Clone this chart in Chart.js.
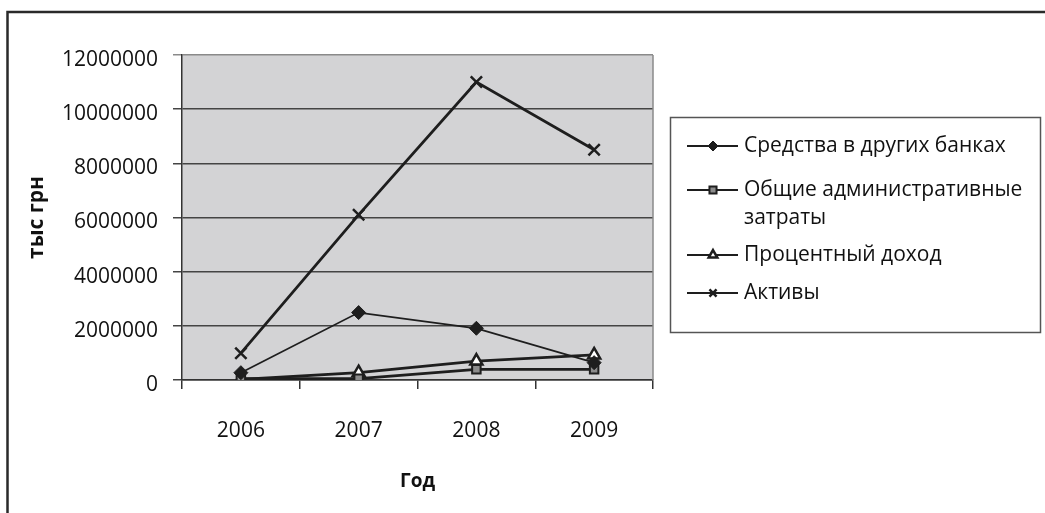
<!DOCTYPE html>
<html>
<head>
<meta charset="utf-8">
<script src="https://cdn.jsdelivr.net/npm/chart.js@4/dist/chart.umd.min.js"></script>
<style>
  html, body { margin: 0; padding: 0; background: #fff; }
  #wrap { width: 1045px; height: 513px; position: relative; }
</style>
</head>
<body>
<div id="wrap"><canvas id="chart" width="1045" height="513"></canvas></div>
<script>
// data
const years = ["2006", "2007", "2008", "2009"];
const bankFunds = [270000, 2490000, 1910000, 640000];
const adminCosts = [50000, 50000, 395000, 395000];
const interestIncome = [20000, 270000, 700000, 925000];
const assets = [990000, 6100000, 11000000, 8500000];

const FONT = "'Open Sans', 'DejaVu Sans', sans-serif";
const INK = "#1e1e1e";

// plot background, outer frame and the right edge of the plot
const frame = {
  id: "frame",
  beforeDraw: (chart) => {
    const { ctx, chartArea: a } = chart;
    ctx.save();
    ctx.fillStyle = "#d3d3d5";
    ctx.fillRect(a.left, a.top, a.right - a.left, a.bottom - a.top);
    ctx.restore();
  },
  afterDraw: (chart) => {
    const { ctx, chartArea: a } = chart;
    ctx.save();
    ctx.strokeStyle = "#8a8a8a";
    ctx.lineWidth = 1.5;
    ctx.beginPath();
    ctx.moveTo(a.right, a.top);
    ctx.lineTo(a.right, a.bottom);
    ctx.stroke();
    ctx.strokeStyle = "#2a2a2a";
    ctx.lineWidth = 2.5;
    ctx.beginPath();
    ctx.moveTo(7.5, 513);
    ctx.lineTo(7.5, 12);
    ctx.lineTo(1045, 12);
    ctx.stroke();
    ctx.restore();
  }
};

// legend box on the right, with a two-line label
const legendBox = {
  id: "legendBox",
  afterDraw: (chart) => {
    const { ctx } = chart;
    ctx.save();
    ctx.strokeStyle = "#555";
    ctx.lineWidth = 1.5;
    ctx.strokeRect(670.5, 117.5, 370, 215);
    const rows = [
      { lines: ["Средства в других банках"], y: 146 },
      { lines: ["Общие административные", "затраты"], y: 190 },
      { lines: ["Процентный доход"], y: 255 },
      { lines: ["Активы"], y: 293 }
    ];
    ctx.font = "21px " + FONT;
    ctx.textBaseline = "middle";
    chart.data.datasets.forEach((ds, i) => {
      const r = rows[i];
      ctx.strokeStyle = INK;
      ctx.lineWidth = 2;
      ctx.beginPath();
      ctx.moveTo(687, r.y);
      ctx.lineTo(738, r.y);
      ctx.stroke();
      ctx.fillStyle = ds.pointBackgroundColor;
      ctx.strokeStyle = ds.pointBorderColor;
      ctx.lineWidth = ds.pointBorderWidth;
      Chart.helpers.drawPoint(ctx, { pointStyle: ds.pointStyle, radius: 5, rotation: 0, borderWidth: ds.pointBorderWidth }, 713, r.y);
      ctx.fillStyle = "#111";
      r.lines.forEach((t, k) => ctx.fillText(t, 744, r.y + k * 28));
    });
    ctx.restore();
  }
};

const ctx = document.getElementById("chart").getContext("2d");

new Chart(ctx, {
  type: "line",
  data: {
    labels: years,
    datasets: [
      {
        label: "Средства в других банках",
        data: bankFunds,
        borderColor: INK,
        borderWidth: 1.8,
        pointStyle: "rectRot",
        pointRadius: 7,
        pointBackgroundColor: INK,
        pointBorderColor: INK,
        pointBorderWidth: 1
      },
      {
        label: "Общие административные затраты",
        data: adminCosts,
        borderColor: INK,
        borderWidth: 2.8,
        pointStyle: "rect",
        pointRadius: 6,
        pointBackgroundColor: "#8c8c8c",
        pointBorderColor: INK,
        pointBorderWidth: 2
      },
      {
        label: "Процентный доход",
        data: interestIncome,
        borderColor: INK,
        borderWidth: 2.8,
        pointStyle: "triangle",
        pointRadius: 7,
        pointBackgroundColor: "#ffffff",
        pointBorderColor: INK,
        pointBorderWidth: 2.5
      },
      {
        label: "Активы",
        data: assets,
        borderColor: INK,
        borderWidth: 2.8,
        pointStyle: "crossRot",
        pointRadius: 8,
        pointBackgroundColor: INK,
        pointBorderColor: INK,
        pointBorderWidth: 2.5
      }
    ]
  },
  options: {
    responsive: false,
    animation: false,
    layout: { padding: { top: 55, right: 392, bottom: 0, left: 0 } },
    plugins: {
      legend: { display: false },
      tooltip: { enabled: false }
    },
    elements: { line: { tension: 0 } },
    scales: {
      x: {
        offset: true,
        grid: {
          offset: true,
          drawOnChartArea: false,
          drawTicks: true,
          tickLength: 9,
          color: "#333",
          lineWidth: 1.5
        },
        border: { display: true, color: "#333", width: 1.5 },
        ticks: { color: "#111", padding: 29, font: { family: FONT, size: 21 } },
        title: {
          display: true,
          text: "Год",
          color: "#111",
          font: { family: FONT, size: 19, weight: "bold" },
          padding: { top: 0, bottom: 20 }
        },
        afterFit: (scale) => { scale.height = 133; }
      },
      y: {
        min: 0,
        max: 12000000,
        ticks: {
          stepSize: 2000000,
          color: "#111",
          padding: 15,
          labelOffset: 5,
          font: { family: FONT, size: 21 },
          callback: (v) => String(v)
        },
        grid: {
          drawTicks: true,
          tickLength: 9,
          color: (c) => (c.tick && c.tick.value === 12000000 ? "#8a8a8a" : "#444"),
          lineWidth: 1.5
        },
        border: { display: true, color: "#333", width: 1.5 },
        title: {
          display: true,
          text: "тыс грн",
          color: "#111",
          font: { family: FONT, size: 21, weight: "bold" },
          padding: { top: 24, bottom: 0 }
        },
        afterFit: (scale) => { scale.width = 182; }
      }
    }
  },
  plugins: [frame, legendBox]
});
</script>
</body>
</html>
